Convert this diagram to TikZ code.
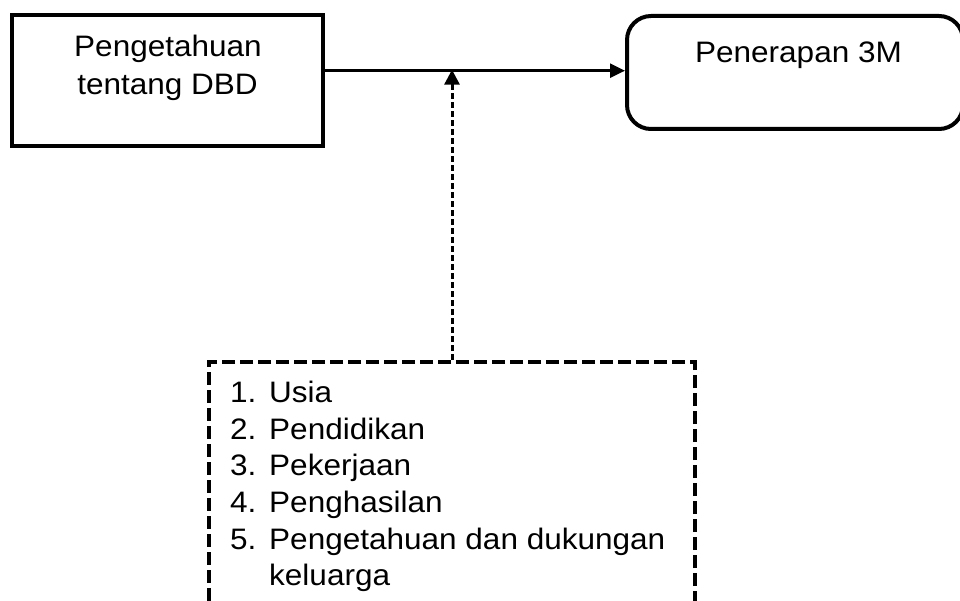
\documentclass[tikz,border=0pt]{standalone}
\usepackage{fontspec}
\setmainfont{Liberation Sans}[FakeStretch=1.065]
\usetikzlibrary{arrows.meta}
\tikzset{
  box/.style={draw, line width=4pt, inner sep=0pt},
  roundbox/.style={box, rounded corners=24pt},
  factbox/.style={draw, line width=4pt, inner sep=0pt, dash pattern=on 13pt off 5pt},
  txt/.style={inner sep=0pt, font=\fontsize{29.6}{36.7}\selectfont},
  mainarrow/.style={line width=2.4pt, -{Triangle[length=15pt,width=14pt]}},
  dasharrow/.style={line width=3pt, dash pattern=on 6pt off 3pt, -{Triangle[length=15pt,width=15pt]}}
}
\begin{document}
\begin{tikzpicture}[x=1pt,y=-1pt]
\clip (0,0) rectangle (960,601);
\fill[white] (0,0) rectangle (960,601);
% boxes
\node[box, minimum width=311pt, minimum height=131pt] (lbox) at (167.5,80.5) {};
\node[roundbox, minimum width=336pt, minimum height=113pt] (rbox) at (795,72.5) {};
\node[factbox, minimum width=486pt, minimum height=278pt] (fac) at (452,501) {};
% texts
\node[txt, anchor=base] (lt1) at (168,56.7) {Pengetahuan};
\node[txt, anchor=base] (lt2) at (167.5,94.2) {tentang DBD};
\node[txt, anchor=base] (rt) at (798.5,62.3) {Penerapan 3M};
\node[txt, anchor=base west] (list) at (230,402.3) {%
  \begin{tabular}[t]{@{}l@{}}
  \makebox[39pt][l]{1.}Usia\\
  \makebox[39pt][l]{2.}Pendidikan\\
  \makebox[39pt][l]{3.}Pekerjaan\\
  \makebox[39pt][l]{4.}Penghasilan\\
  \makebox[39pt][l]{5.}Pengetahuan dan dukungan\\
  \makebox[39pt][l]{}keluarga
  \end{tabular}};
% connectors
\coordinate (j) at (452,70.7);
\draw[mainarrow] (lbox.east |- j) -- (rbox.west |- j);
\draw[dasharrow] (fac.north) -- ([yshift=1pt]j);
\end{tikzpicture}
\end{document}
